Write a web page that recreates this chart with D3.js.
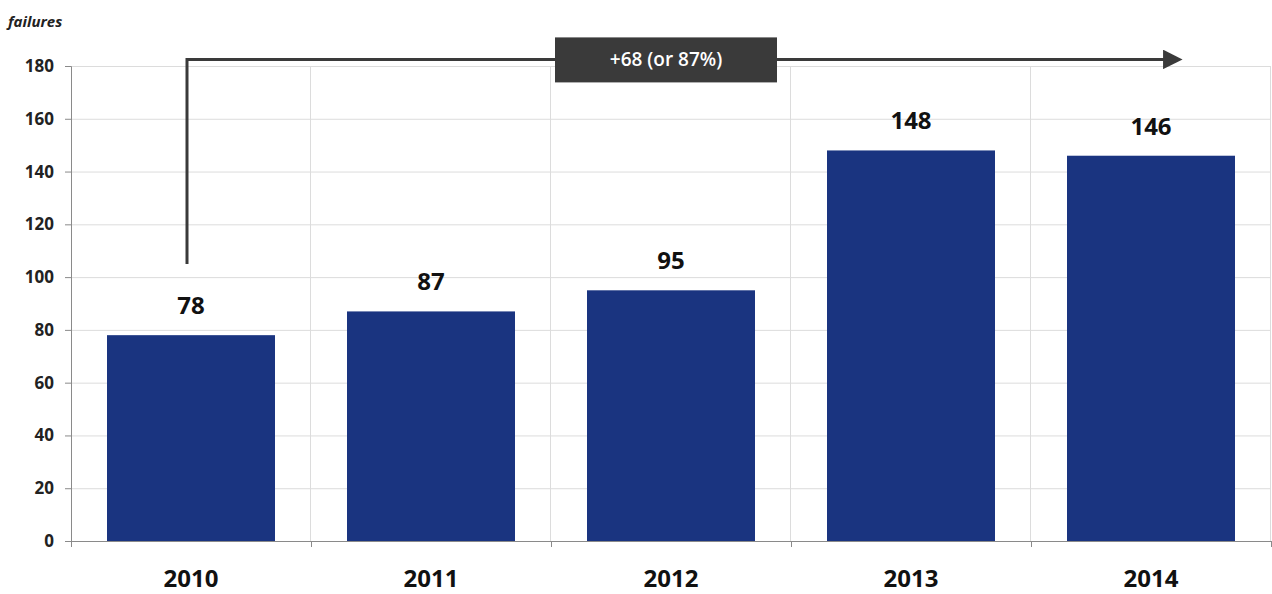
<!DOCTYPE html>
<html>
<head>
<meta charset="utf-8">
<script src="https://cdn.jsdelivr.net/npm/d3@7"></script>
<style>
    body { margin: 0; background: #fff; }
    text { font-family: "Open Sans", "DejaVu Sans", sans-serif; }
</style>
</head>
<body>
<div id="graph-container"></div>
<script>
const years = ['2010', '2011', '2012', '2013', '2014'];
const failures = [78, 87, 95, 148, 146];
const yTicks = [0, 20, 40, 60, 80, 100, 120, 140, 160, 180];
const unitLabel = 'failures';
const changeLabel = '+68 (or 87%)';
// arrow: rises from 2010 at this value, runs across to past 2014
const arrowFrom = 105;
const arrowLevel = 182.5;

const WIDTH = 1272, HEIGHT = 594;
const margin = { top: 66, bottom: 53, left: 71, right: 1 };
const width = WIDTH - margin.left - margin.right,
    height = HEIGHT - margin.top - margin.bottom;

const svg = d3.select('#graph-container').append('svg')
    .attr('width', WIDTH)
    .attr('height', HEIGHT);

const container = svg.append('g')
    .attr('transform', `translate(${margin.left} ${margin.top})`);

const xScale = d3.scaleBand()
    .domain(years)
    .range([0, width])
    .paddingInner(0.3)
    .paddingOuter(0.15);

const yScale = d3.scaleLinear()
    .domain([0, 180])
    .range([height, 0]);

const step = xScale.step();

// horizontal grid
container.append('g')
    .selectAll('line')
    .data(yTicks.slice(1))
    .join('line')
    .attr('x1', 0)
    .attr('x2', width)
    .attr('y1', (d) => yScale(d) + 0.5)
    .attr('y2', (d) => yScale(d) + 0.5)
    .attr('stroke', '#dcdcdc');

// vertical grid at category boundaries
container.append('g')
    .selectAll('line')
    .data(d3.range(1, years.length + 1))
    .join('line')
    .attr('x1', (i) => i * step - 0.5)
    .attr('x2', (i) => i * step - 0.5)
    .attr('y1', 0)
    .attr('y2', height)
    .attr('stroke', '#dcdcdc');

// bars
container.selectAll('rect.bar')
    .data(failures)
    .join('rect')
    .attr('class', 'bar')
    .attr('x', (d, i) => xScale(years[i]))
    .attr('y', (d) => yScale(d))
    .attr('width', xScale.bandwidth())
    .attr('height', (d) => height - yScale(d))
    .attr('fill', '#1a3480');

// value labels
container.selectAll('text.value')
    .data(failures)
    .join('text')
    .attr('class', 'value')
    .attr('x', (d, i) => xScale(years[i]) + xScale.bandwidth() / 2)
    .attr('y', (d) => yScale(d) - 21)
    .attr('text-anchor', 'middle')
    .style('font-size', '24px')
    .style('font-weight', 'bold')
    .attr('fill', '#111')
    .text((d) => d);

// y axis
const yAxis = d3.axisLeft(yScale)
    .tickValues(yTicks)
    .tickSize(6)
    .tickPadding(11);

const yAxisG = container.append('g').call(yAxis);
yAxisG.select('.domain').attr('stroke', '#8a8a8a');
yAxisG.selectAll('.tick line').attr('stroke', '#8a8a8a');
yAxisG.selectAll('.tick text')
    .style('font-size', '17px')
    .style('font-weight', 'bold')
    .attr('fill', '#222');

// x axis
const xAxisG = container.append('g')
    .attr('transform', `translate(0, ${height})`);
xAxisG.append('line')
    .attr('x1', 0).attr('x2', width)
    .attr('y1', 0.5).attr('y2', 0.5)
    .attr('stroke', '#8a8a8a');
xAxisG.selectAll('line.tick')
    .data(d3.range(0, years.length + 1))
    .join('line')
    .attr('class', 'tick')
    .attr('x1', (i) => i * step + 0.5)
    .attr('x2', (i) => i * step + 0.5)
    .attr('y1', 0)
    .attr('y2', 6)
    .attr('stroke', '#8a8a8a');
xAxisG.selectAll('text')
    .data(years)
    .join('text')
    .attr('x', (d) => xScale(d) + xScale.bandwidth() / 2)
    .attr('y', 46)
    .attr('text-anchor', 'middle')
    .style('font-size', '24px')
    .style('font-weight', 'bold')
    .attr('fill', '#111')
    .text((d) => d);

// unit label
svg.append('text')
    .attr('x', 8)
    .attr('y', 27)
    .style('font-size', '15px')
    .style('font-weight', 'bold')
    .style('font-style', 'italic')
    .attr('fill', '#222')
    .text(unitLabel);

// change arrow
const defs = svg.append('defs');
defs.append('marker')
    .attr('id', 'head')
    .attr('viewBox', '0 0 10 10')
    .attr('refX', 1)
    .attr('refY', 5)
    .attr('markerWidth', 9)
    .attr('markerHeight', 6.5)
    .attr('markerUnits', 'strokeWidth')
    .attr('orient', 'auto')
    .append('path')
    .attr('d', 'M0,0 L10,5 L0,10 Z')
    .attr('fill', '#3a3a3a');

const ax0 = xScale(years[0]) + 80;
const axEnd = xScale(years[years.length - 1]) + xScale.bandwidth() / 2 + 14;
container.append('path')
    .attr('d', `M${ax0},${yScale(arrowFrom)} V${yScale(arrowLevel)} H${axEnd}`)
    .attr('fill', 'none')
    .attr('stroke', '#3a3a3a')
    .attr('stroke-width', 3)
    .attr('marker-end', 'url(#head)');

// change box
const boxCx = xScale(years[2]) + xScale.bandwidth() / 2 - 5;
const boxG = container.append('g')
    .attr('transform', `translate(${boxCx}, ${yScale(arrowLevel)})`);
boxG.append('rect')
    .attr('x', -111)
    .attr('y', -22)
    .attr('width', 222)
    .attr('height', 45)
    .attr('fill', '#3a3a3a');
boxG.append('text')
    .attr('x', 0)
    .attr('y', 7)
    .attr('text-anchor', 'middle')
    .style('font-size', '19px')
    .style('font-weight', '600')
    .attr('fill', '#fff')
    .text(changeLabel);
</script>
</body>
</html>
